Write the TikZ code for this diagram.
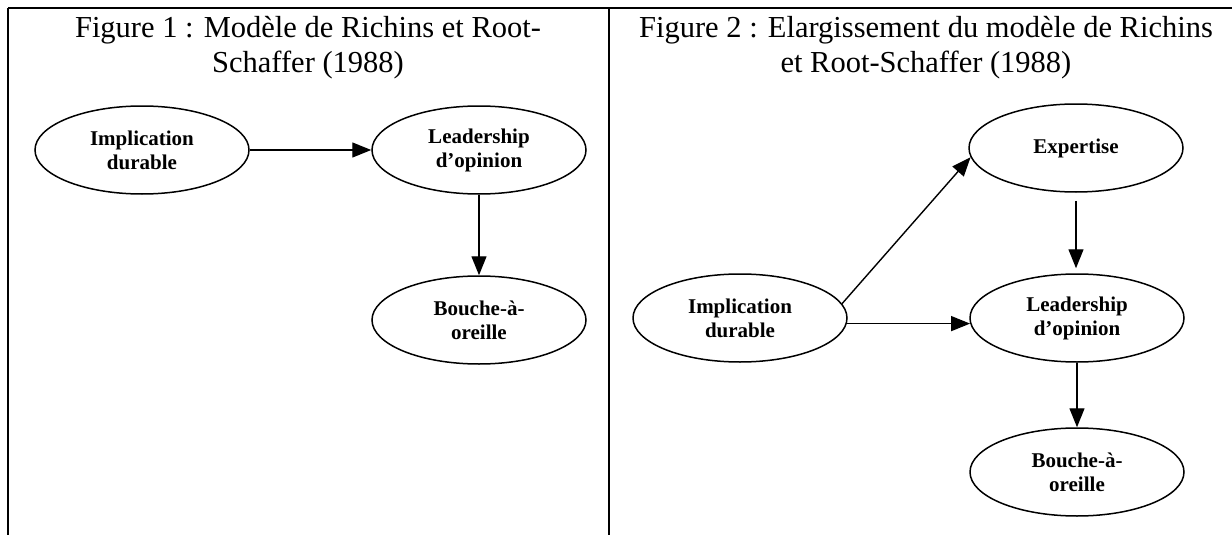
\documentclass[tikz,border=0pt]{standalone}
\usepackage{fontspec}
\setmainfont{Liberation Serif}
\usetikzlibrary{shapes.geometric,arrows.meta}
\begin{document}
\begin{tikzpicture}[x=1pt,y=-1pt,
  oval/.style={ellipse,draw,line width=1.5pt,minimum width=214pt,minimum height=88pt,inner sep=0pt,
    align=center,font=\fontsize{21}{24}\selectfont\bfseries},
  arr/.style={line width=1.4pt,-{Triangle[length=19pt,width=15pt]}},
  rule/.style={line width=1.8pt},
  ttl/.style={align=center,font=\fontsize{30.5}{35}\selectfont,inner sep=0pt}]
\useasboundingbox (0,0) rectangle (1232,535);
% table rules
\coordinate (tl) at (8,8);
\coordinate (tr) at (1232,8);
\coordinate (bl) at (8,535);
\coordinate (tm) at (609,8);
\coordinate (bm) at (609,535);
\draw[rule] (tl) -- (tr);
\draw[rule] (tl) -- (bl);
\draw[rule] (tm) -- (bm);
% titles
\node[ttl,anchor=north] (t1) at (308,16) {Figure 1 : Modèle de Richins et Root-\\Schaffer (1988)};
\node[ttl,anchor=north] (t2) at (926,16) {Figure 2 : Elargissement du modèle de Richins\\et Root-Schaffer (1988)};
% figure 1
\node[oval] (imp1) at (142,150) {Implication\\durable};
\node[oval] (lead1) at (479,150) {Leadership\\d’opinion};
\node[oval] (bou1) at (479,320) {Bouche-à-\\oreille};
\draw[arr] (imp1.east) -- (lead1.west);
\draw[arr] (lead1.south) -- (bou1.north);
% figure 2
\node[oval] (exp) at (1076,148) {Expertise};
\node[oval] (imp2) at (740,318) {Implication\\durable};
\node[oval] (lead2) at (1077,318) {Leadership\\d’opinion};
\node[oval] (bou2) at (1077,472) {Bouche-à-\\oreille};
\draw[arr] (imp2.8) -- (exp.185);
\draw[arr] (imp2.-3) -- (lead2.183);
\draw[arr,shorten <=8pt,shorten >=5pt] (exp.south) -- (exp.south |- lead2.north);
\draw[arr] (lead2.south) -- (bou2.north);
\end{tikzpicture}
\end{document}
